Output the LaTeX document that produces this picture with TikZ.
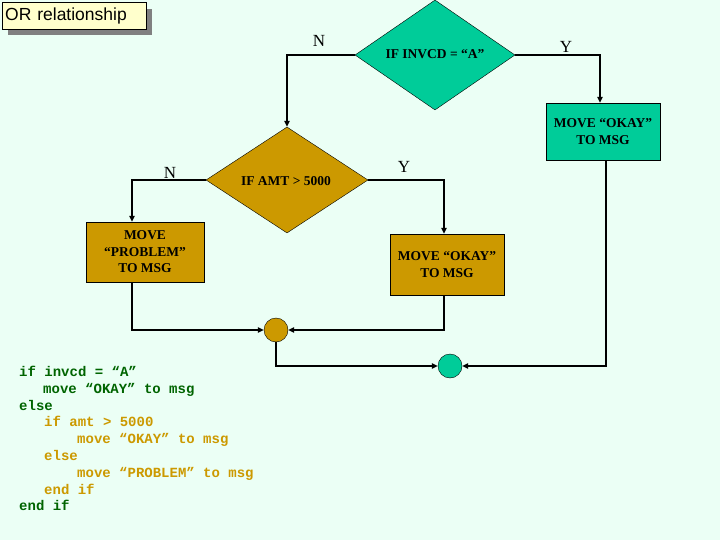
\documentclass[tikz,border=0pt]{standalone}
\usepackage{fontspec}
\setmainfont{Liberation Serif}
\setsansfont{Liberation Sans}
\setmonofont{Liberation Mono}
\usetikzlibrary{shapes.geometric,arrows.meta,calc}
\definecolor{bg}{RGB}{235,255,245}
\definecolor{teal1}{RGB}{0,204,153}
\definecolor{gold1}{RGB}{204,153,0}
\definecolor{codegreen}{RGB}{0,100,0}
\definecolor{titlefill}{RGB}{255,255,204}
\definecolor{shadowgray}{RGB}{128,128,128}
\tikzset{
  conn/.style={draw=black, line width=1.4pt, -{Triangle[length=6pt,width=5.5pt]}},
  dia/.style={diamond, draw=black, line width=0.4pt, inner sep=0pt},
  procbox/.style={rectangle, draw=black, line width=0.4pt, inner sep=0pt, align=center,
     font=\fontsize{13.5}{16.5}\selectfont\bfseries},
  dtext/.style={font=\fontsize{13.5}{15}\selectfont\bfseries},
  yn/.style={font=\fontsize{17}{17}\selectfont},
  joint/.style={circle, draw=black, line width=0.4pt, minimum size=24pt, inner sep=0pt},
  codeline/.style={anchor=base west, inner sep=0pt, font=\fontsize{14}{14}\selectfont\ttfamily\bfseries},
}
\begin{document}
\begin{tikzpicture}[x=1pt,y=-1pt]
\fill[bg] (0,0) rectangle (720,540);
\useasboundingbox (0,0) rectangle (720,540);
% title
\fill[shadowgray] (8,9) rectangle (152,35);
\node[draw=black, fill=titlefill, line width=0.5pt, text width=138pt, inner xsep=3pt, inner ysep=0pt,
  minimum height=27pt, align=left, font=\fontsize{17.5}{17.5}\selectfont\sffamily, anchor=north west] (title) at (2,2) {OR relationship};
% diamonds
\node[dia, fill=teal1, minimum width=160pt, minimum height=110pt] (d1) at (435,55) {};
\node[dtext] (d1t) at (435,54) {IF INVCD = “A”};
\node[dia, fill=gold1, minimum width=162pt, minimum height=106pt] (d2) at (287,180) {};
\node[dtext] (d2t) at (286,181) {IF AMT > 5000};
% boxes
\node[procbox, fill=teal1, minimum width=114pt, minimum height=57pt] (ok1) at (603,131.5) {MOVE “OKAY”\\TO MSG};
\node[procbox, fill=gold1, minimum width=118pt, minimum height=60pt] (prob) at (145,252) {MOVE\\“PROBLEM”\\TO MSG};
\node[procbox, fill=gold1, minimum width=114pt, minimum height=61pt] (ok2) at (447,264.5) {MOVE “OKAY”\\TO MSG};
% joints
\node[joint, fill=gold1] (c1) at (276,330) {};
\node[joint, fill=teal1] (c2) at (450,366) {};
% labels
\node[yn] (n1) at (319,41) {N};
\node[yn] (y1) at (566,47) {Y};
\node[yn] (n2) at (170,173) {N};
\node[yn] (y2) at (404,167) {Y};
% connectors
\draw[conn] (d1.west) -| (d2.north);
\draw[conn] (d1.east) -| ($(ok1.north)+(-3,0)$);
\draw[conn] (d2.west) -| ($(prob.north)+(-13,0)$);
\draw[conn] (d2.east) -| ($(ok2.north)+(-3,0)$);
\draw[conn] ($(prob.south)+(-13,0)$) |- (c1.west);
\draw[conn] ($(ok2.south)+(-3,0)$) |- (c1.east);
\draw[conn] (c1.south) |- (c2.west);
\draw[conn] ($(ok1.south)+(3,0)$) |- (c2.east);
% code
\node[codeline, text=codegreen] (l1) at (19,376) {if invcd = “A”};
\node[codeline, text=codegreen] (l2) at (43,393) {move “OKAY” to msg};
\node[codeline, text=codegreen] (l3) at (19,410) {else};
\node[codeline, text=gold1] (l4) at (44,426) {if amt > 5000};
\node[codeline, text=gold1] (l5) at (77,443) {move “OKAY” to msg};
\node[codeline, text=gold1] (l6) at (44,460) {else};
\node[codeline, text=gold1] (l7) at (77,477) {move “PROBLEM” to msg};
\node[codeline, text=gold1] (l8) at (44,494) {end if};
\node[codeline, text=codegreen] (l9) at (19,510) {end if};
\end{tikzpicture}
\end{document}
